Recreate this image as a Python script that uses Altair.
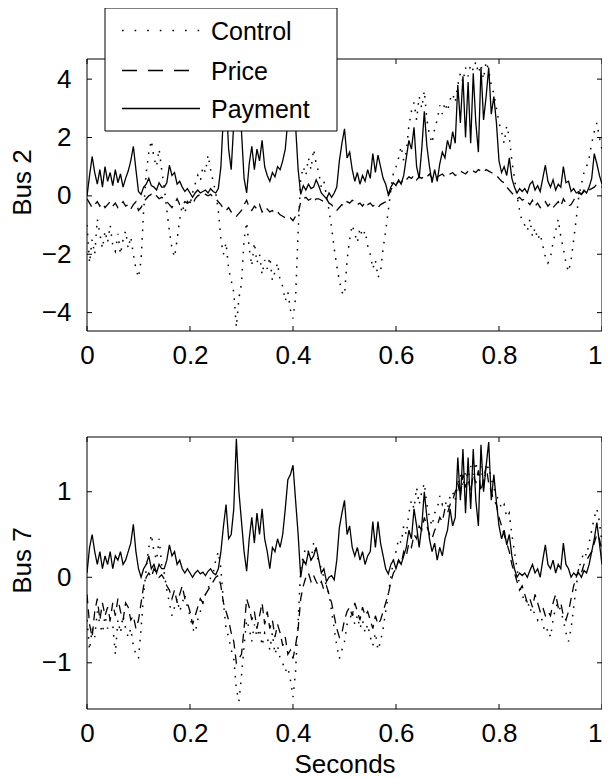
import altair as alt
import pandas as pd

# ---------------- data ----------------
t = [round(i * 0.005, 3) for i in range(201)]

bus2_payment = [
 0.0, 0.7, 1.35, 0.8, 0.4, 0.9, 0.3, 1.0, 0.5, 0.8,
 0.35, 0.9, 0.45, 0.75, 0.3, 0.6, 0.85, 1.2, 1.7, 0.9,
 0.15, 0.05, 0.3, 0.4, 0.6, 0.35, 0.3, 0.2, 0.45, 0.3,
 0.3, 0.45, 1.05, 0.7, 0.8, 0.4, 0.5, 0.3, 0.15, 0.25,
 0.1, -0.05, 0.1, 0.2, 0.1, 0.15, 0.2, 0.1, 0.25, 0.15,
 0.1, 0.25, 1.0, 2.8, 3.4, 1.6, 0.9, 2.5, 4.2, 3.6,
 2.2, 0.6, 0.1, 1.1, 1.7, 0.9, 1.6, 1.2, 1.9, 1.0,
 0.7, 0.5, 0.8, 0.65, 1.0, 0.9, 1.2, 1.6, 2.6, 3.3,
 3.8, 2.4, 0.9, 0.05, 0.35, 0.2, 0.4, 0.25, 0.3, 0.55,
 0.35, 0.1, 0.0, -0.1, 0.1, -0.05, 0.1, 0.3, 1.2, 1.8,
 2.3, 1.3, 1.5, 0.9, 0.5, 0.8, 0.4, 0.7, 0.5, 0.9,
 0.6, 1.45, 0.8, 1.4, 1.0, 0.6, 0.4, 0.05, 0.3, 0.45,
 0.35, 0.55, 0.4, 0.7, 1.3, 1.9, 1.6, 2.35, 1.0, 0.6,
 1.6, 2.9, 1.7, 1.0, 0.45, 0.9, 0.5, 1.1, 1.5, 1.3,
 1.9, 1.6, 2.2, 1.8, 3.8, 2.5, 4.1, 2.0, 3.9, 1.8,
 4.2, 2.5, 1.5, 4.4, 2.6, 3.4, 4.4, 2.8, 3.4, 2.5,
 1.2, 0.8, 1.0, 0.7, 1.3, 0.6, 0.3, 0.1, 0.25, 0.15,
 0.25, 0.1, 0.4, 0.5, 0.2, 0.35, 0.15, 0.6, 1.05, 0.5,
 0.3, 0.55, 0.2, 0.4, 0.3, 1.0, 0.45, 0.5, 0.15, 0.25,
 0.1, 0.15, 0.05, 0.2, 0.1, 0.3, 0.6, 1.45, 1.1, 0.7,
 0.4]

bus2_price = [
 -0.1, -0.25, -0.4, -0.3, -0.2, -0.35, -0.25, -0.4, -0.3, -0.2,
 -0.35, -0.25, -0.4, -0.3, -0.2, -0.35, -0.3, -0.45, -0.3, -0.2,
 -0.5, -0.4, -0.2, -0.1, 0.0, 0.05, -0.05, 0.0, -0.1, -0.05,
 -0.1, -0.2, -0.3, -0.4, -0.25, -0.1, -0.3, -0.35, -0.2, -0.25,
 -0.2, -0.3, -0.1, 0.0, 0.05, 0.1, 0.05, 0.0, 0.05, -0.05,
 -0.1, -0.2, -0.3, -0.45, -0.5, -0.4, -0.55, -0.6, -0.7, -0.6,
 -0.5, -0.3, -0.15, -0.4, -0.5, -0.35, -0.45, -0.3, -0.55, -0.4,
 -0.45, -0.55, -0.5, -0.6, -0.55, -0.65, -0.7, -0.75, -0.8, -0.75,
 -0.85, -0.7, -0.6, -0.2, -0.1, -0.05, -0.15, -0.1, -0.2, -0.1,
 -0.1, -0.15, -0.2, -0.1, -0.25, -0.3, -0.45, -0.5, -0.4, -0.3,
 -0.35, -0.2, -0.25, -0.15, -0.2, -0.3, -0.25, -0.35, -0.2, -0.3,
 -0.25, -0.35, -0.3, -0.4, -0.3, -0.25, -0.2, 0.0, 0.2, 0.35,
 0.4, 0.5, 0.45, 0.6, 0.55, 0.65, 0.6, 0.7, 0.55, 0.65,
 0.6, 0.7, 0.65, 0.75, 0.6, 0.7, 0.65, 0.7, 0.75, 0.65,
 0.7, 0.75, 0.8, 0.7, 0.75, 0.85, 0.8, 0.75, 0.85, 0.8,
 0.85, 0.8, 0.9, 0.85, 0.8, 0.9, 0.85, 0.8, 0.75, 0.7,
 0.6, 0.5, 0.45, 0.3, 0.2, 0.1, 0.0, -0.1, -0.05, -0.15,
 -0.1, -0.2, -0.3, -0.15, -0.35, -0.25, -0.4, -0.3, -0.2, -0.35,
 -0.25, -0.4, -0.3, -0.2, -0.35, -0.1, -0.25, -0.35, -0.3, -0.15,
 0.0, 0.1, 0.05, 0.15, 0.1, 0.2, 0.25, 0.3, 0.4, 0.35,
 0.3]

bus2_control = [
 -1.0, -2.3, -1.5, -2.0, -0.8, -1.3, -1.8, -1.2, -1.6, -1.0,
 -1.7, -1.9, -1.3, -2.0, -1.5, -1.2, -1.8, -1.4, -2.0, -2.5,
 -2.8, -2.2, -0.5, 0.8, 1.5, 1.9, 1.3, 1.0, 1.6, 0.9,
 0.3, -0.5, -1.2, -1.8, -2.1, -1.5, -0.8, -0.3, -0.6, -0.2,
 -0.3, 0.1, 0.4, 0.7, 0.5, 1.0, 0.8, 1.4, 0.9, 0.5,
 0.1, -0.5, -1.5, -2.0, -1.6, -2.5, -2.9, -3.3, -4.5, -3.5,
 -3.0, -1.5, -0.9, -1.8, -2.4, -1.6, -2.3, -2.0, -2.7, -2.2,
 -2.5, -2.1, -2.9, -2.6, -2.3, -2.9, -3.1, -3.6, -3.3, -3.9,
 -4.2, -3.5, -1.2, 0.6, 1.0, 0.7, 1.3, 0.9, 1.6, 1.1,
 0.8, 0.3, 0.5, 0.0, -0.5, -1.1, -1.8, -2.4, -2.9, -3.3,
 -3.4, -2.2, -1.5, -1.0, -1.3, -1.6, -1.1, -1.4, -1.2, -1.7,
 -2.0, -2.5, -2.2, -2.8, -2.6, -1.8, -1.2, -0.5, 0.2, 0.8,
 1.0, 1.3, 1.7, 1.2, 1.5, 2.4, 2.9, 3.2, 2.6, 3.4,
 3.0, 3.6, 2.6, 2.1, 1.8, 2.3, 2.6, 3.1, 2.8, 3.2,
 2.9, 3.3, 3.5, 3.2, 3.8, 4.2, 3.9, 4.4, 4.1, 4.5,
 4.3, 4.6, 4.2, 4.5, 4.0, 4.6, 4.3, 3.8, 3.5, 3.0,
 2.5, 2.2, 1.8, 2.4, 2.0, 1.2, 0.6, 0.0, -0.5, -0.9,
 -1.0, -1.2, -0.8, -1.4, -1.1, -1.5, -1.3, -1.7, -2.1, -2.3,
 -2.1, -1.6, -1.2, -0.8, -1.4, -1.8, -2.3, -2.6, -2.2, -1.5,
 -0.8, 0.0, 0.4, 0.8, 1.0, 1.3, 1.8, 2.2, 2.5, 2.0,
 1.6]

bus7_payment = [
 0.05, 0.35, 0.5, 0.3, 0.15, 0.3, 0.1, 0.25, 0.15, 0.3,
 0.1, 0.25, 0.2, 0.3, 0.15, 0.2, 0.3, 0.4, 0.62, 0.3,
 0.1, 0.0, 0.1, 0.15, 0.25, 0.1, 0.15, 0.05, 0.15, 0.1,
 0.1, 0.2, 0.38, 0.25, 0.3, 0.15, 0.2, 0.1, 0.05, 0.1,
 0.05, 0.0, 0.05, 0.08, 0.04, 0.06, 0.02, 0.07, 0.1, 0.05,
 0.03, 0.1, 0.3, 0.6, 0.85, 0.45, 0.5, 0.8, 1.62, 1.0,
 0.65, 0.3, 0.07, 0.45, 0.7, 0.4, 0.75, 0.5, 0.8, 0.45,
 0.3, 0.1, 0.35, 0.3, 0.45, 0.35, 0.5, 0.8, 1.14, 1.2,
 1.31, 0.9, 0.5, 0.0, 0.2, 0.15, 0.3, 0.2, 0.25, 0.35,
 0.2, 0.05, 0.1, -0.05, 0.0, 0.02, -0.03, 0.2, 0.58, 0.75,
 0.9, 0.5, 0.6, 0.35, 0.25, 0.35, 0.2, 0.3, 0.15, 0.25,
 0.3, 0.65, 0.35, 0.65, 0.4, 0.25, 0.1, 0.04, 0.15, 0.2,
 0.1, 0.2, 0.15, 0.25, 0.35, 0.55, 0.45, 0.8, 0.6, 0.35,
 0.6, 1.0, 0.7, 0.45, 0.3, 0.4, 0.2, 0.35, 0.25, 0.45,
 0.55, 0.8, 0.6, 0.7, 1.4, 0.9, 1.5, 0.75, 1.4, 0.8,
 1.5, 0.9, 0.6, 1.55, 1.0, 1.3, 1.58, 0.9, 1.2, 0.88,
 0.6, 0.45, 0.55, 0.38, 0.5, 0.25, 0.1, 0.0, 0.05, 0.02,
 0.05, 0.0, 0.08, 0.15, 0.05, 0.1, 0.0, 0.2, 0.38, 0.15,
 0.1, 0.2, 0.05, 0.15, 0.1, 0.4, 0.15, 0.1, 0.0, 0.05,
 0.02, 0.05, 0.0, 0.08, 0.05, 0.15, 0.3, 0.45, 0.64, 0.4,
 0.15]

bus7_price = [
 -0.2, -0.55, -0.7, -0.4, -0.25, -0.5, -0.3, -0.45, -0.35, -0.5,
 -0.3, -0.45, -0.25, -0.4, -0.5, -0.3, -0.35, -0.5, -0.45, -0.6,
 -0.5, -0.3, -0.1, 0.0, 0.05, 0.0, 0.1, 0.05, 0.0, 0.03,
 -0.02, -0.1, -0.15, -0.25, -0.15, -0.3, -0.2, -0.1, -0.25, -0.3,
 -0.4, -0.55, -0.45, -0.35, -0.25, -0.3, -0.2, -0.15, -0.1, -0.05,
 0.0, 0.02, -0.1, -0.3, -0.4, -0.5, -0.65, -0.75, -1.0, -0.95,
 -0.9, -0.6, -0.25, -0.35, -0.5, -0.4, -0.6, -0.45, -0.3, -0.55,
 -0.4, -0.6, -0.5, -0.7, -0.55, -0.65, -0.8, -0.7, -0.9, -0.85,
 -0.95, -0.8, -0.6, -0.25, -0.1, 0.0, 0.05, -0.05, 0.02, -0.05,
 -0.1, -0.05, -0.15, -0.1, -0.2, -0.3, -0.45, -0.6, -0.7, -0.65,
 -0.5, -0.4, -0.35, -0.45, -0.3, -0.4, -0.5, -0.35, -0.45, -0.4,
 -0.5, -0.6, -0.45, -0.55, -0.5, -0.4, -0.3, -0.2, -0.05, 0.05,
 0.1, 0.2, 0.15, 0.3, 0.25, 0.4, 0.35, 0.5, 0.45, 0.6,
 0.55, 0.7, 0.6, 0.5, 0.45, 0.55, 0.6, 0.7, 0.65, 0.8,
 0.75, 0.85, 0.9, 1.0, 1.1, 0.95, 1.2, 1.05, 1.15, 1.0,
 1.2, 1.1, 1.25, 1.0, 1.15, 1.3, 1.1, 1.0, 0.9, 0.85,
 0.7, 0.6, 0.5, 0.4, 0.3, 0.15, 0.05, -0.05, -0.15, -0.1,
 -0.2, -0.3, -0.25, -0.35, -0.2, -0.3, -0.4, -0.35, -0.45, -0.4,
 -0.45, -0.3, -0.2, -0.35, -0.3, -0.45, -0.5, -0.4, -0.25, -0.1,
 0.0, 0.1, 0.05, 0.15, 0.2, 0.25, 0.3, 0.4, 0.5, 0.45,
 0.3]

bus7_control = [
 -0.5, -0.85, -0.6, -0.7, -0.4, -0.55, -0.65, -0.45, -0.6, -0.5,
 -0.55, -0.9, -0.5, -0.65, -0.45, -0.6, -0.7, -0.6, -0.8, -0.9,
 -0.95, -0.6, -0.2, 0.1, 0.35, 0.5, 0.3, 0.2, 0.45, 0.15,
 0.05, -0.15, -0.3, -0.45, -0.35, -0.25, -0.4, -0.3, -0.2, -0.35,
 -0.45, -0.6, -0.65, -0.5, -0.4, -0.3, -0.2, -0.15, 0.0, 0.05,
 0.2, 0.3, 0.1, -0.3, -0.6, -0.7, -0.85, -0.95, -1.3, -1.45,
 -1.15, -0.8, -0.5, -0.6, -0.75, -0.55, -0.7, -0.6, -0.8, -0.65,
 -0.7, -0.85, -0.65, -0.9, -0.8, -0.95, -1.0, -1.1, -1.05, -1.2,
 -1.4, -1.1, -0.5, 0.1, 0.25, 0.35, 0.3, 0.2, 0.4, 0.25,
 0.2, 0.1, 0.0, -0.1, -0.2, -0.4, -0.6, -0.8, -0.95, -0.85,
 -0.75, -0.55, -0.5, -0.4, -0.55, -0.45, -0.6, -0.5, -0.65, -0.55,
 -0.7, -0.8, -0.65, -0.85, -0.75, -0.6, -0.4, -0.2, 0.0, 0.2,
 0.3, 0.45, 0.4, 0.6, 0.5, 0.75, 0.9, 0.8, 1.05, 0.85,
 1.0, 1.1, 0.85, 0.7, 0.6, 0.75, 0.8, 0.95, 0.85, 0.9,
 0.8, 0.95, 1.0, 0.9, 1.1, 1.2, 1.05, 1.25, 1.15, 1.3,
 1.2, 1.35, 1.15, 1.3, 1.1, 1.25, 1.3, 1.15, 1.05, 0.95,
 0.9, 0.8, 0.85, 0.7, 0.75, 0.5, 0.3, 0.1, -0.1, -0.2,
 -0.3, -0.25, -0.4, -0.35, -0.45, -0.5, -0.4, -0.55, -0.65, -0.6,
 -0.7, -0.5, -0.35, -0.3, -0.4, -0.5, -0.65, -0.75, -0.6, -0.35,
 -0.1, 0.1, 0.2, 0.3, 0.25, 0.4, 0.55, 0.7, 0.8, 0.65,
 0.4]

x_ticks = [0, 0.2, 0.4, 0.6, 0.8, 1]
bus2_ticks = [-4, -2, 0, 2, 4]
bus7_ticks = [-1, 0, 1]
bus2_domain = [-4.63, 4.69]
bus7_domain = [-1.54, 1.64]
legend_labels = ["Control", "Price", "Payment"]

# ---------------- style / layout ----------------
FONT = "Liberation Sans"
W = 515            # plot width (whole page is only 594 px wide inside the margins)
PH = 272           # height of one panel
GAP = 106          # gap between the two panels
TOTAL_H = 2 * PH + GAP
TICK = 5
styles = {
    "Control": dict(strokeDash=[1.6, 7], strokeWidth=1.5),
    "Price": dict(strokeDash=[9, 6], strokeWidth=1.3),
    "Payment": dict(strokeWidth=1.3),
}
legend_styles = {
    "Control": dict(strokeDash=[1.6, 11], strokeWidth=1.5),
    "Price": dict(strokeDash=[15, 11], strokeWidth=1.3),
    "Payment": dict(strokeWidth=1.3),
}
one = pd.DataFrame({"a": [0]})


def panel(control, price, payment, ydom, yticks, ytitle, xtitle, y0, with_legend):
    """y0 = pixel offset of the panel's top edge inside the shared plot area."""
    ytop, ybot = y0, y0 + PH
    xs = alt.Scale(domain=[0, 1], nice=False, zero=False)
    ys = alt.Scale(domain=ydom, range=[ybot, ytop], nice=False, zero=False)
    xenc = alt.X("x:Q", scale=xs, title=xtitle,
                 axis=alt.Axis(values=x_ticks, format="~g", labelFlush=False,
                               labelAlign=alt.condition("datum.value >= 1",
                                                        alt.value("right"),
                                                        alt.value("center")),
                               orient="bottom", offset=ybot - TOTAL_H))
    yenc = alt.Y("y:Q", scale=ys, title=ytitle,
                 axis=alt.Axis(values=yticks, format="~g", orient="left",
                               titleY=ytop + PH / 2 - 13))
    layers = []
    for name, vals in (("Control", control), ("Price", price), ("Payment", payment)):
        df = pd.DataFrame({"x": t, "y": vals})
        layers.append(alt.Chart(df).mark_line(color="black", clip=True, **styles[name])
                      .encode(x=xenc, y=yenc))
    # frame
    layers.append(alt.Chart(one).mark_rect(fillOpacity=0, stroke="black", strokeWidth=1)
                  .encode(x=alt.value(0), x2=alt.value(W),
                          y=alt.value(ytop), y2=alt.value(ybot)))
    # inward tick marks on all four sides
    xt = pd.DataFrame({"x": x_ticks})
    yt = pd.DataFrame({"y": yticks})
    for a, b in ((ytop, ytop + TICK), (ybot, ybot - TICK)):
        layers.append(alt.Chart(xt).mark_rule(color="black", strokeWidth=1).encode(
            x=xenc, y=alt.value(a), y2=alt.value(b)))
    for a, b in ((0, TICK), (W, W - TICK)):
        layers.append(alt.Chart(yt).mark_rule(color="black", strokeWidth=1).encode(
            y=yenc, x=alt.value(a), x2=alt.value(b)))

    if with_legend:
        layers.append(alt.Chart(one).mark_rect(fill="white", stroke="black", strokeWidth=1)
                      .encode(x=alt.value(18), x2=alt.value(250),
                              y=alt.value(ytop - 51), y2=alt.value(ytop + 72)))
        rows = [-28.5, 11.5, 49.5]
        for lab, yy in zip(legend_labels, rows):
            layers.append(alt.Chart(one).mark_rule(color="black", **legend_styles[lab])
                          .encode(x=alt.value(35), x2=alt.value(113),
                                  y=alt.value(ytop + yy)))
            layers.append(alt.Chart(one).mark_text(align="left", baseline="middle",
                                                   font=FONT, fontSize=25, color="black")
                          .encode(x=alt.value(124), y=alt.value(ytop + yy + 1),
                                  text=alt.value(lab)))
    return alt.layer(*layers)


top = panel(bus2_control, bus2_price, bus2_payment, bus2_domain, bus2_ticks,
            "Bus 2", None, 0, True)
bottom = panel(bus7_control, bus7_price, bus7_payment, bus7_domain, bus7_ticks,
               "Bus 7", "Seconds", PH + GAP, False)

chart = (
    alt.layer(top, bottom)
    .resolve_scale(x="independent", y="independent")
    .resolve_axis(x="independent", y="independent")
    .properties(width=W, height=TOTAL_H,
                autosize=alt.AutoSizeParams(type="none"),
                padding={"left": 79, "top": 51, "right": 0, "bottom": 69})
    .configure_view(strokeWidth=0)
    .configure_axis(grid=False, domain=False, ticks=False, tickSize=0,
                    labelFont=FONT, titleFont=FONT, labelFontSize=26, titleFontSize=26,
                    labelColor="black", titleColor="black", titleFontWeight="normal")
    .configure_axisX(labelPadding=11, titlePadding=5)
    .configure_axisY(labelPadding=16, titlePadding=6)
)

chart.save("out.html", embed_options={"renderer": "svg", "actions": False})
